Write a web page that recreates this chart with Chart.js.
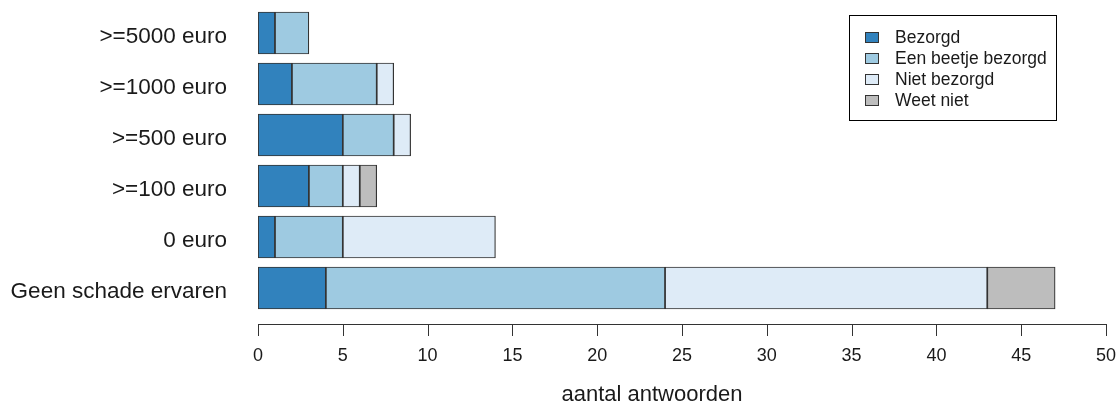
<!DOCTYPE html>
<html>
<head>
<meta charset="utf-8">
<script src="https://cdn.jsdelivr.net/npm/chart.js@4"></script>
<style>
  html, body { margin: 0; padding: 0; background: #fff; }
  #wrap { width: 1120px; height: 408px; position: relative; }
</style>
</head>
<body>
<div id="wrap"><canvas id="schade"></canvas></div>
<script>
const categories = ['>=5000 euro', '>=1000 euro', '>=500 euro', '>=100 euro', '0 euro', 'Geen schade ervaren'];
const bezorgd = [1, 2, 5, 3, 1, 4];
const beetjeBezorgd = [2, 5, 3, 2, 4, 20];
const nietBezorgd = [0, 1, 1, 1, 9, 19];
const weetNiet = [0, 0, 0, 1, 0, 4];
const xTicks = [0, 5, 10, 15, 20, 25, 30, 35, 40, 45, 50];
const xTitle = 'aantal antwoorden';

const FONT = '"Liberation Sans", Arial, sans-serif';
const INK = '#1a1a1a';

function serie(label, data, color) {
  return {
    label: label,
    data: data,
    backgroundColor: color,
    borderColor: '#333',
    borderWidth: 1.2,
    borderSkipped: false,
    barThickness: 42
  };
}

function noPadding(s) {
  s.paddingTop = 0;
  s.paddingBottom = 0;
  s.paddingLeft = 0;
  s.paddingRight = 0;
}

// R-achtige as, titel en legenda
const extras = {
  id: 'extras',
  afterDraw(chart) {
    const ctx = chart.ctx;
    const xs = chart.scales.x;
    const axisY = 324;
    ctx.save();
    ctx.strokeStyle = '#333';
    ctx.lineWidth = 1;
    ctx.beginPath();
    ctx.moveTo(xs.getPixelForValue(xTicks[0]), axisY + 0.5);
    ctx.lineTo(xs.getPixelForValue(xTicks[xTicks.length - 1]), axisY + 0.5);
    xTicks.forEach(t => {
      const px = Math.round(xs.getPixelForValue(t)) + 0.5;
      ctx.moveTo(px, axisY);
      ctx.lineTo(px, axisY + 12);
    });
    ctx.stroke();

    ctx.fillStyle = INK;
    ctx.font = '22px ' + FONT;
    ctx.textAlign = 'center';
    ctx.textBaseline = 'middle';
    ctx.fillText(xTitle, 652, 395);

    // legenda
    const lx = 849.5, ly = 15.5, lw = 207, lh = 105;
    ctx.strokeStyle = '#000';
    ctx.strokeRect(lx, ly, lw, lh);
    ctx.font = '17.5px ' + FONT;
    ctx.textAlign = 'left';
    chart.data.datasets.forEach((ds, i) => {
      const cy = 37 + i * 21;
      ctx.fillStyle = ds.backgroundColor;
      ctx.fillRect(865, cy - 5, 14, 11);
      ctx.strokeStyle = '#333';
      ctx.strokeRect(865.5, cy - 4.5, 13, 10);
      ctx.fillStyle = INK;
      ctx.fillText(ds.label, 895, cy + 1);
    });
    ctx.restore();
  }
};

new Chart(document.getElementById('schade'), {
  type: 'bar',
  data: {
    labels: categories,
    datasets: [
      serie('Bezorgd', bezorgd, '#3182bd'),
      serie('Een beetje bezorgd', beetjeBezorgd, '#9ecae1'),
      serie('Niet bezorgd', nietBezorgd, '#deebf7'),
      serie('Weet niet', weetNiet, '#bdbdbd')
    ]
  },
  options: {
    indexAxis: 'y',
    responsive: true,
    maintainAspectRatio: false,
    animation: false,
    layout: { padding: { top: 7.5, left: 0, right: 14, bottom: 0 } },
    plugins: {
      legend: { display: false },
      tooltip: { enabled: false }
    },
    scales: {
      x: {
        stacked: true,
        min: 0,
        max: 50,
        afterFit: s => { s.height = 94.5; noPadding(s); },
        grid: { display: false, drawTicks: false },
        border: { display: false },
        ticks: {
          stepSize: 5,
          padding: 32,
          color: INK,
          font: { family: FONT, size: 18 }
        }
      },
      y: {
        stacked: true,
        afterFit: s => { s.width = 258; noPadding(s); },
        grid: { display: false, drawTicks: false },
        border: { display: false },
        ticks: {
          padding: 31,
          labelOffset: 4,
          color: INK,
          font: { family: FONT, size: 22.5 }
        }
      }
    }
  },
  plugins: [extras]
});
</script>
</body>
</html>
